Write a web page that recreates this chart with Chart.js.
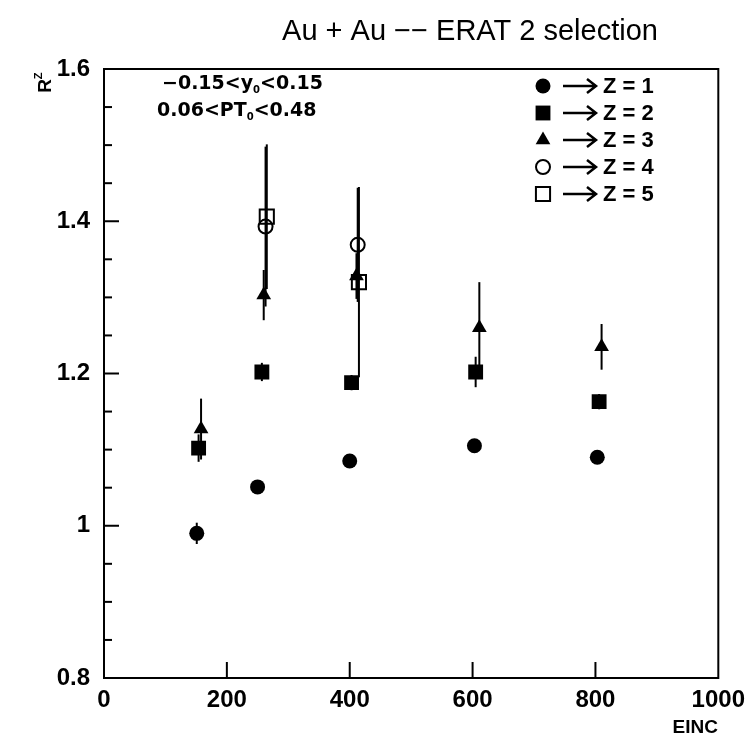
<!DOCTYPE html>
<html>
<head>
<meta charset="utf-8">
<script src="https://cdn.jsdelivr.net/npm/chart.js@4"></script>
<style>
  body { margin: 0; background: #fff; }
  canvas { display: block; }
</style>
</head>
<body>
<canvas id="ratioChart" width="753" height="747"></canvas>
<script>
// values
const z1Einc = [151, 250, 400, 603, 803];
const z1R    = [0.990, 1.051, 1.085, 1.105, 1.090];
const z1Err  = [0.014, 0.005, 0.005, 0.005, 0.005];

const z2Einc = [154, 257, 403, 605, 806];
const z2R    = [1.102, 1.202, 1.188, 1.202, 1.163];
const z2Err  = [0.018, 0.012, 0.010, 0.020, 0.010];

const z3Einc = [158, 260, 411, 611, 810];
const z3R    = [1.127, 1.303, 1.328, 1.260, 1.235];
const z3Err  = [0.040, 0.033, 0.030, 0.060, 0.030];

const z4Einc = [263, 413];
const z4R    = [1.393, 1.369];
const z4Err  = [0.105, 0.075];

const z5Einc = [265, 415];
const z5R    = [1.406, 1.320];
const z5Err  = [0.095, 0.125];

const xTickLabels = ['0', '200', '400', '600', '800', '1000'];
const yTickLabels = ['0.8', '1', '1.2', '1.4', '1.6'];
const legendLabels = ['Z = 1', 'Z = 2', 'Z = 3', 'Z = 4', 'Z = 5'];

const FONT = '"Liberation Sans", "DejaVu Sans", sans-serif';
const WIDE = '"DejaVu Sans", sans-serif';

function points(xs, ys, errs) {
    return xs.map((x, i) => ({ x: x, y: ys[i], err: errs[i] }));
}

function series(label, xs, ys, errs, style, radius, filled) {
    return {
        label: label,
        data: points(xs, ys, errs),
        showLine: false,
        pointStyle: style,
        pointRadius: radius,
        pointHoverRadius: radius,
        pointBackgroundColor: filled ? '#000' : 'rgba(0,0,0,0)',
        pointBorderColor: '#000',
        pointBorderWidth: filled ? 0 : 2,
    };
}

function drawSub(ctx, parts, x, y) {
    ctx.font = 'bold 19px ' + WIDE;
    ctx.fillText(parts[0], x, y);
    x += ctx.measureText(parts[0]).width;
    ctx.font = 'bold 10px ' + WIDE;
    ctx.fillText(parts[1], x, y + 6);
    x += ctx.measureText(parts[1]).width;
    ctx.font = 'bold 19px ' + WIDE;
    ctx.fillText(parts[2], x, y);
}

function drawArrow(ctx, x0, x1, y) {
    ctx.beginPath();
    ctx.moveTo(x0, y);
    ctx.lineTo(x1, y);
    ctx.moveTo(x1 - 9, y - 7);
    ctx.lineTo(x1, y);
    ctx.lineTo(x1 - 9, y + 7);
    ctx.stroke();
}

// error bars, frame, inside ticks and the free text
const decorations = {
    id: 'decorations',
    beforeDatasetsDraw(chart) {
        const ctx = chart.ctx;
        const ys = chart.scales.y;
        ctx.save();
        ctx.strokeStyle = '#000';
        ctx.lineWidth = 2;
        chart.data.datasets.forEach((ds, i) => {
            const meta = chart.getDatasetMeta(i);
            meta.data.forEach((pt, j) => {
                const d = ds.data[j];
                ctx.beginPath();
                ctx.moveTo(pt.x, ys.getPixelForValue(d.y + d.err));
                ctx.lineTo(pt.x, ys.getPixelForValue(d.y - d.err));
                ctx.stroke();
            });
        });
        ctx.restore();
    },
    afterDraw(chart) {
        const ctx = chart.ctx;
        const a = chart.chartArea;
        const xs = chart.scales.x;
        const ys = chart.scales.y;
        ctx.save();
        ctx.strokeStyle = '#000';
        ctx.lineWidth = 2;
        ctx.strokeRect(a.left, a.top, a.right - a.left, a.bottom - a.top);

        // x ticks pointing inward
        for (let v = 200; v < 1000; v += 200) {
            const px = xs.getPixelForValue(v);
            ctx.beginPath();
            ctx.moveTo(px, a.bottom);
            ctx.lineTo(px, a.bottom - 16);
            ctx.stroke();
        }
        // y major and minor ticks
        for (let k = 1; k < 16; k++) {
            const v = 0.8 + k * 0.05;
            const py = ys.getPixelForValue(v);
            const len = (k % 4 === 0) ? 15 : 8;
            ctx.beginPath();
            ctx.moveTo(a.left, py);
            ctx.lineTo(a.left + len, py);
            ctx.stroke();
        }

        ctx.fillStyle = '#000';
        ctx.textBaseline = 'middle';

        // title
        ctx.font = '29px ' + FONT;
        ctx.textAlign = 'center';
        ctx.fillText('Au + Au \u2212\u2212 ERAT 2 selection', 470, 32);

        // x axis name
        ctx.font = 'bold 19px ' + FONT;
        ctx.textAlign = 'right';
        ctx.fillText('EINC', 718, 728);

        // y axis name, rotated
        ctx.save();
        ctx.translate(46, 86);
        ctx.rotate(-Math.PI / 2);
        ctx.textAlign = 'center';
        ctx.font = 'bold 19px ' + FONT;
        ctx.fillText('R', 0, 0);
        ctx.font = 'bold 11px ' + FONT;
        ctx.fillText('Z', 10, -7);
        ctx.restore();

        // cut description
        ctx.textAlign = 'left';
        drawSub(ctx, ['\u22120.15<y', '0', '<0.15'], 162, 84);
        drawSub(ctx, ['0.06<PT', '0', '<0.48'], 157, 111);

        // legend
        const ds = chart.data.datasets;
        legendLabels.forEach((txt, i) => {
            const y = 86 + i * 27;
            ctx.fillStyle = ds[i].pointBackgroundColor;
            ctx.strokeStyle = '#000';
            ctx.lineWidth = ds[i].pointBorderWidth;
            Chart.helpers.drawPoint(ctx, {
                pointStyle: ds[i].pointStyle,
                radius: ds[i].pointRadius,
                rotation: 0,
                borderWidth: ds[i].pointBorderWidth
            }, 543, y);
            ctx.lineWidth = 2.5;
            drawArrow(ctx, 563, 596, y);
            ctx.fillStyle = '#000';
            ctx.font = 'bold 22px ' + FONT;
            ctx.textAlign = 'left';
            ctx.fillText(txt, 603, y + 1);
        });
        ctx.restore();
    }
};

const ctx = document.getElementById('ratioChart').getContext('2d');
const ratioChart = new Chart(ctx, {
    type: 'scatter',
    data: {
        datasets: [
            series('Z = 1', z1Einc, z1R, z1Err, 'circle', 7.5, true),
            series('Z = 2', z2Einc, z2R, z2Err, 'rect', 10.5, true),
            series('Z = 3', z3Einc, z3R, z3Err, 'triangle', 8.5, true),
            series('Z = 4', z4Einc, z4R, z4Err, 'circle', 7, false),
            series('Z = 5', z5Einc, z5R, z5Err, 'rect', 10, false),
        ]
    },
    options: {
        responsive: false,
        animation: false,
        layout: {
            padding: { left: 40, right: 34, top: 69, bottom: 29 }
        },
        scales: {
            x: {
                type: 'linear',
                min: 0,
                max: 1000,
                afterFit(scale) { scale.height = 40; },
                ticks: {
                    stepSize: 200,
                    padding: 8,
                    maxRotation: 0,
                    color: '#000',
                    font: { size: 24, weight: 'bold', family: FONT },
                    callback: (v, i) => xTickLabels[i],
                },
                grid: { display: false, drawTicks: false },
                border: { display: false },
            },
            y: {
                min: 0.8,
                max: 1.6,
                afterFit(scale) { scale.width = 64; },
                ticks: {
                    stepSize: 0.2,
                    padding: 14,
                    color: '#000',
                    font: { size: 24, weight: 'bold', family: FONT },
                    callback: (v, i) => yTickLabels[i],
                },
                grid: { display: false, drawTicks: false },
                border: { display: false },
            }
        },
        plugins: {
            legend: { display: false },
            tooltip: { enabled: false },
        }
    },
    plugins: [decorations]
});
</script>
</body>
</html>
